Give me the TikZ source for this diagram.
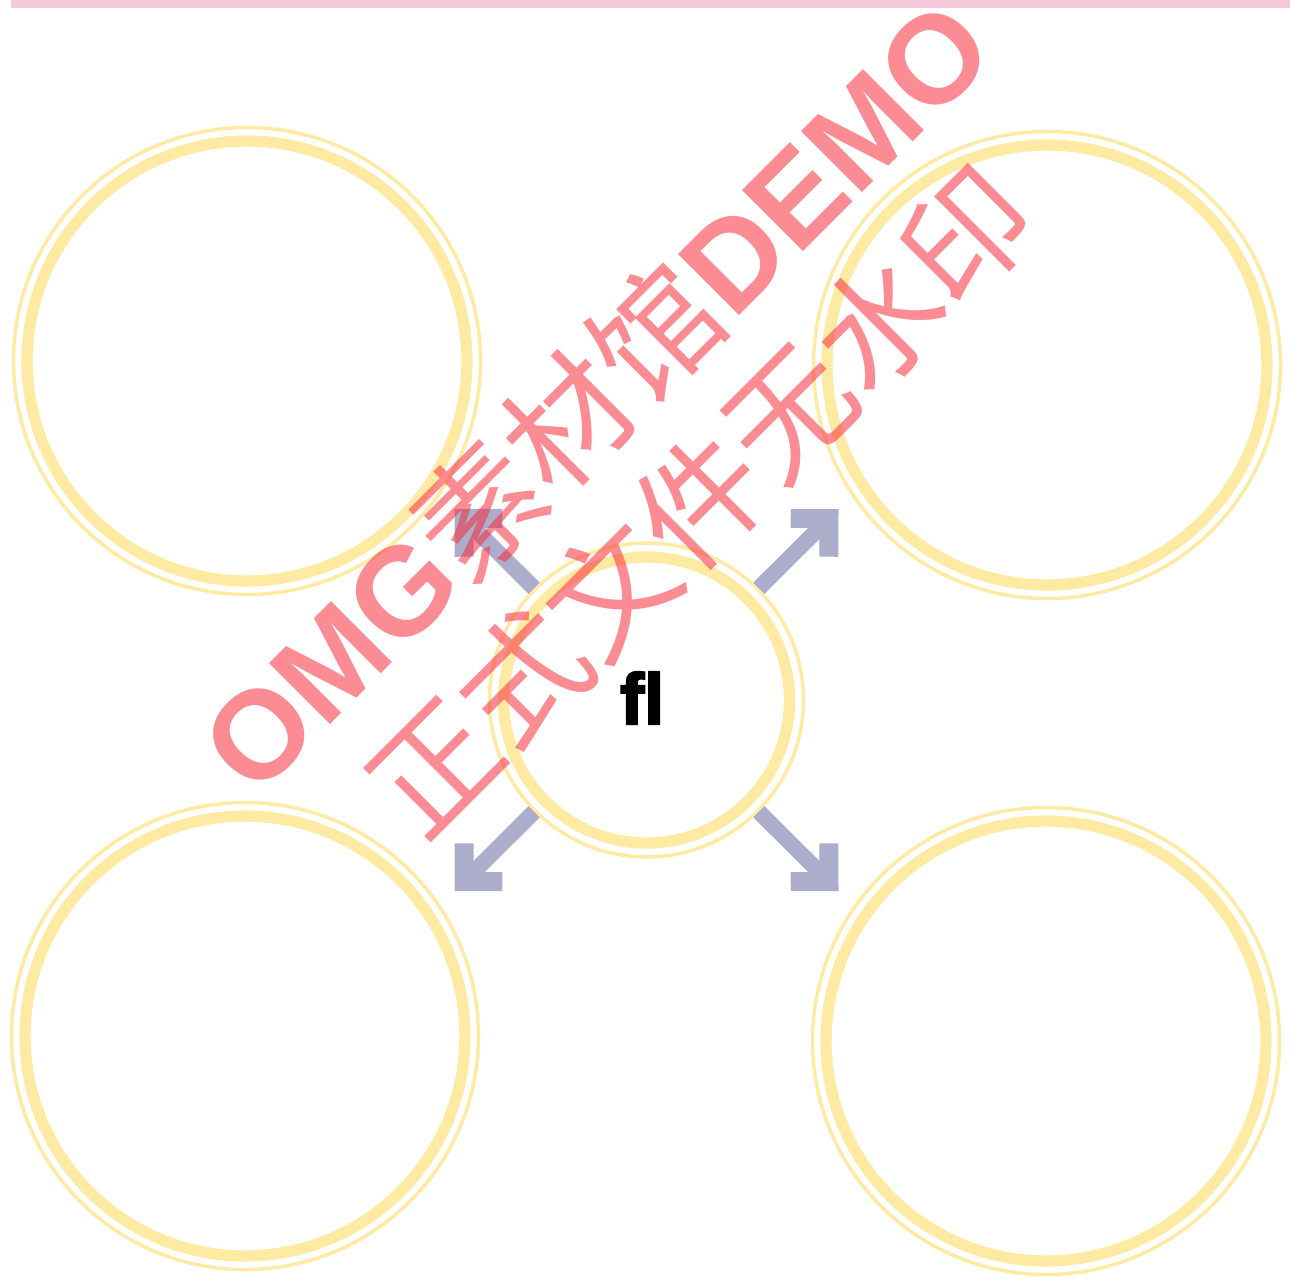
\documentclass[tikz,border=0pt]{standalone}
\usepackage{fontspec}
\setmainfont{Liberation Sans}
\newfontfamily\cjk{Noto Sans CJK SC}
\newfontfamily\latinbold{Liberation Sans Bold}
\newfontfamily\heavy[FakeBold=3]{Liberation Sans Bold}
\usetikzlibrary{arrows.meta}
\definecolor{barpink}{RGB}{245,200,220}
\definecolor{ringyellow}{RGB}{255,234,164}
\definecolor{spokegrey}{RGB}{172,172,203}
\definecolor{stampred}{RGB}{250,40,55}
\begin{document}
\begin{tikzpicture}[x=0.02cm,y=-0.02cm,
		ringthick/.style={draw=ringyellow,line width=6.4pt},
		ringthin/.style={draw=ringyellow,line width=2pt},
		bubble/.style={circle,ringthick,inner sep=0pt,minimum size=8.8cm},
		spoke/.style={draw=spokegrey,line width=9pt,-{Straight Barb[length=15.4pt,width=30.8pt,line width=10.8pt]}},
		stamp/.style={text=stampred,text opacity=0.535,align=center,inner sep=0pt,font=\fontsize{71.4}{85.6}\selectfont}]
		\useasboundingbox (0,0) rectangle (1290,1278);
		
		\fill[barpink] (11,0) rectangle (1290,7.5);
		
		\node[bubble] (tl) at (247,361){};
		\draw[ringthin] (tl) circle (233.5);
		
		\node[bubble] (tr) at (1047,365){};
		\draw[ringthin] (tr) circle (233.5);
		
		\node[bubble] (bl) at (245,1036){};
		\draw[ringthin] (bl) circle (233.5);
		
		\node[bubble] (br) at (1046,1041){};
		\draw[ringthin] (br) circle (233.5);
		
		\node[bubble,minimum size=5.72cm,outer sep=8.8pt,font=\heavy\fontsize{41}{41}\selectfont] (hub) at (646.5,700){\raisebox{2.3pt}{fl}\kern5pt};
		\draw[ringthin] (hub) circle (157);
		
		\coordinate (tipne) at (838.5,509);
		\coordinate (tipnw) at (454.5,509);
		\coordinate (tipsw) at (454.5,891);
		\coordinate (tipse) at (838.5,891);
		
		\draw[spoke] (hub) -- (tipne);
		\draw[spoke] (hub) -- (tipnw);
		\draw[spoke] (hub) -- (tipsw);
		\draw[spoke] (hub) -- (tipse);
		
		\node[stamp,rotate=45] (demo) at (647,447){\latinbold OMG\cjk 素材馆\latinbold DEMO\\\cjk 正式文件无水印};
	\end{tikzpicture}
\end{document}
